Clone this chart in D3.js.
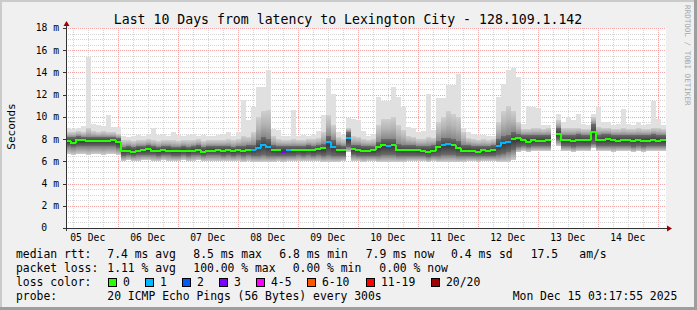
<!DOCTYPE html>
<html><head><meta charset="utf-8">
<script src="https://cdn.jsdelivr.net/npm/d3@7"></script>
<style>body{margin:0;background:#f0f0f0}svg{display:block}</style>
</head><body><svg id="c" width="697" height="310"></svg>
<script>
// ---------- data ----------
const titleText = "Last 10 Days from latency to Lexington City - 128.109.1.142";
const yTicks = [0, 2, 4, 6, 8, 10, 12, 14, 16, 18];
const yTickLabels = ["0", "2 m", "4 m", "6 m", "8 m", "10 m", "12 m", "14 m", "16 m", "18 m"];
const dayLabels = ["05 Dec", "06 Dec", "07 Dec", "08 Dec", "09 Dec", "10 Dec", "11 Dec", "12 Dec", "13 Dec", "14 Dec"];
// 2-hour steps starting Dec 5 03:17:55 (ms)
const median = [7.85,7.65,7.95,7.9,7.85,7.8,7.8,7.8,7.8,7.9,7.7,
 6.9,6.9,6.8,6.9,7.0,7.1,6.95,6.9,7.0,6.95,6.9,6.9,6.95,6.9,6.95,7.05,6.85,6.95,6.95,7.0,6.95,7.0,6.9,7.0,6.95,7.0,
 7.0,7.2,7.45,7.3,7.0,7.0,6.85,7.0,7.0,7.0,7.0,7.05,7.0,7.1,7.2,7.75,7.25,7.0,7.0,8.1,7.1,7.0,6.9,6.95,7.0,
 7.25,7.5,7.4,7.5,7.0,7.0,7.0,7.0,7.0,6.95,6.8,6.95,7.3,7.5,7.55,7.5,7.2,6.95,6.95,6.9,6.85,7.0,6.95,7.0,
 7.4,7.65,7.7,8.0,8.1,7.9,7.75,7.9,7.85,7.85,7.9,
 null,
 8.45,7.9,7.9,7.85,7.95,7.9,7.9,8.6,7.9,7.95,8.0,7.9,7.85,7.9,7.9,7.85,7.9,7.8,7.85,7.9,7.85,7.9];
const pingMin = [6.7,6.6,6.7,6.7,6.6,6.7,6.7,6.6,6.7,6.7,6.6,
 6.0,6.1,6.0,6.05,6.1,6.1,6.0,6.05,6.1,6.0,6.05,6.0,6.1,6.0,6.05,6.1,6.0,6.05,6.0,6.05,6.0,6.05,6.0,6.0,5.95,6.0,
 5.95,5.9,5.9,5.9,5.95,6.0,5.95,6.0,6.0,6.05,6.0,6.0,6.0,6.0,5.95,5.9,5.9,5.95,6.0,6.8,6.0,6.0,5.95,6.0,6.0,
 5.9,5.9,5.9,5.9,5.9,5.95,6.0,6.0,6.0,6.0,5.95,6.0,5.9,5.9,5.9,5.9,5.9,5.95,6.0,6.0,5.95,6.0,6.0,6.0,
 5.9,5.9,5.95,6.1,6.8,6.9,6.85,6.9,6.9,6.9,6.9,
 null,
 7.4,6.9,6.9,6.85,6.9,6.9,6.9,7.2,6.9,6.9,6.9,6.85,6.9,6.9,6.9,6.85,6.9,6.85,6.9,6.9,6.9,6.9];
const pingQ1 = [7.4,7.3,7.4,7.4,7.4,7.4,7.4,7.4,7.4,7.4,7.2,
 6.5,6.55,6.5,6.55,6.6,6.6,6.55,6.5,6.55,6.55,6.5,6.5,6.55,6.5,6.55,6.6,6.5,6.55,6.55,6.55,6.5,6.55,6.5,6.55,6.5,6.55,
 6.5,6.5,6.6,6.5,6.5,6.5,6.45,6.5,6.5,6.55,6.5,6.55,6.5,6.55,6.5,6.6,6.5,6.5,6.5,7.3,6.55,6.5,6.45,6.5,6.5,
 6.5,6.6,6.6,6.6,6.5,6.5,6.5,6.5,6.5,6.5,6.4,6.5,6.5,6.6,6.6,6.6,6.5,6.5,6.5,6.5,6.45,6.5,6.5,6.5,
 6.6,6.7,6.8,7.0,7.3,7.35,7.3,7.35,7.35,7.35,7.4,
 null,
 7.9,7.35,7.35,7.3,7.4,7.35,7.35,7.6,7.35,7.4,7.4,7.35,7.35,7.35,7.35,7.3,7.35,7.3,7.35,7.35,7.35,7.35];
const pingQ3 = [8.2,8.2,8.3,8.2,8.2,8.2,8.2,8.2,8.2,8.2,8.1,
 7.3,7.35,7.3,7.35,7.4,7.45,7.35,7.3,7.4,7.35,7.3,7.3,7.35,7.3,7.4,7.45,7.3,7.35,7.35,7.4,7.35,7.4,7.3,7.4,7.4,7.45,
 7.5,7.9,8.2,8.0,7.5,7.4,7.35,7.4,7.4,7.4,7.4,7.45,7.4,7.5,7.6,8.3,7.9,7.5,7.4,8.6,7.5,7.45,7.35,7.4,7.4,
 7.7,8.0,8.0,8.0,7.6,7.5,7.5,7.45,7.4,7.4,7.4,7.45,7.8,8.1,8.1,8.0,7.8,7.5,7.45,7.4,7.35,7.4,7.4,7.45,
 8.0,8.3,8.4,8.6,8.5,8.4,8.35,8.4,8.4,8.4,8.4,
 null,
 9.0,8.4,8.4,8.4,8.45,8.4,8.4,9.4,8.4,8.45,8.5,8.4,8.4,8.4,8.4,8.4,8.4,8.35,8.4,8.45,8.4,8.4];
const pingHi = [8.6,8.6,8.7,8.6,9.0,8.7,8.6,8.7,8.6,8.6,8.5,
 7.9,7.9,7.8,7.9,7.9,8.0,7.9,7.8,7.9,7.9,7.9,7.8,7.9,7.9,7.9,8.0,7.8,7.9,7.9,7.9,7.9,8.0,7.9,8.0,8.3,8.2,
 8.6,10.0,10.5,10.6,8.3,8.0,7.9,7.9,8.0,7.9,7.9,8.0,8.0,8.1,8.6,10.2,9.3,8.2,8.0,9.0,8.3,8.2,8.0,7.9,8.0,
 9.3,9.8,9.8,10.0,9.3,8.8,8.3,8.2,8.0,8.0,8.2,8.1,9.5,10.0,10.5,10.3,10.0,8.6,8.1,8.0,7.9,8.0,7.9,8.0,
 9.5,10.5,11.0,10.5,9.5,8.9,8.9,9.0,9.0,8.9,9.0,
 null,
 9.7,9.0,9.0,9.0,9.0,8.9,8.9,10.0,9.1,9.0,9.0,8.9,8.9,9.0,8.9,8.9,9.0,8.9,8.9,9.0,9.0,8.9];
const pingMax = [9.0,8.9,9.0,9.2,15.4,9.4,9.3,9.2,10.2,9.1,9.1,
 8.3,8.2,8.3,8.4,8.3,8.5,9.0,8.4,8.5,8.3,8.6,8.4,8.3,8.4,8.5,8.3,8.4,8.3,8.3,8.4,8.5,8.6,8.3,8.6,11.5,9.7,
 10.9,12.7,12.7,14.2,8.9,8.8,8.3,8.3,10.6,8.3,8.4,8.3,8.4,8.7,10.2,13.5,12.1,8.6,8.4,9.9,9.8,9.7,8.7,8.3,8.5,
 11.8,11.4,11.4,12.7,11.8,10.9,9.1,9.0,8.6,8.7,12.1,8.8,11.7,11.7,12.9,12.9,13.9,9.0,8.6,8.5,8.4,8.4,8.3,8.3,
 11.8,13.0,14.2,14.4,13.6,9.4,11.0,10.9,10.8,9.3,9.3,
 null,
 10.3,9.5,10.0,9.7,10.3,9.4,9.3,10.3,10.9,9.5,9.5,9.3,9.4,10.7,9.4,9.3,9.5,9.3,9.4,11.4,9.8,9.3];
const lossCount = [0,0,0,0,0,0,0,0,0,0,0,
 0,0,0,0,0,0,0,0,0,0,0,0,0,0,0,0,0,0,0,0,0,0,0,0,0,0,
 1,1,1,1,0,0,3,1,0,0,0,0,0,0,0,1,1,0,0,1,0,0,0,0,0,
 0,0,1,0,0,0,0,0,0,0,0,0,0,1,1,0,0,0,0,0,0,0,0,0,
 1,1,1,0,0,0,0,0,0,0,0,
 0,
 0,0,0,0,0,0,0,0,0,0,0,0,0,0,0,0,0,0,0,0,0,0];
const lossLabels = ["0", "1", "2", "3", "4-5", "6-10", "11-19", "20/20"];
const lossColors = ["#26ff00", "#00b8ff", "#0059ff", "#7e00ff", "#ff00ff", "#ff5500", "#ff0000", "#a10000"];
const statsRtt = ["7.4 ms avg", "8.5 ms max", "6.8 ms min", "7.9 ms now", "0.4 ms sd", "17.5", "am/s"];
const statsLoss = ["1.11 % avg", "100.00 % max", "0.00 % min", "0.00 % now"];
const probeText = "20 ICMP Echo Pings (56 Bytes) every 300s";
const dateText = "Mon Dec 15 03:17:55 2025";

// ---------- layout ----------
const W = 697, H = 310;
const tStart = new Date(Date.UTC(2025, 11, 5, 3, 17, 55));
const tEnd = new Date(Date.UTC(2025, 11, 15, 3, 17, 55));
const STEP = 2 * 3600 * 1000;
const L = 66, R = 666, T = 28, B = 228;
const x = d3.scaleUtc().domain([tStart, tEnd]).range([L, R]);
const y = d3.scaleLinear().domain([0, 18]).range([B, T]);
const mono = "DejaVu Sans Mono";

const svg = d3.select("#c");
const defs = svg.append("defs");
function grad(id, stops) {
  const g = defs.append("linearGradient").attr("id", id).attr("x1", 0).attr("y1", 0).attr("x2", 0).attr("y2", 1);
  stops.forEach(s => g.append("stop").attr("offset", s[0]).attr("stop-color", s[1]));
}
grad("gBelow", [[0, "#7a7a7a"], [0.5, "#a6a6a6"], [1, "#cdcdcd"]]);
grad("gAbove", [[0, "#cfcfcf"], [0.5, "#b4b4b4"], [1, "#888888"]]);
grad("gCore", [[0, "#6c6c6c"], [0.5, "#3e3e3e"], [1, "#6c6c6c"]]);

// background + frame
svg.append("rect").attr("width", W).attr("height", H).attr("fill", "#f0f0f0");
svg.append("path").attr("d", `M0,0H${W}V2H2V${H}H0Z`).attr("fill", "#cbcbcb");
svg.append("path").attr("d", `M${W},0V${H}H0V${H-3}H${W-3}V0Z`).attr("fill", "#9e9e9e");

// canvas
svg.append("rect").attr("x", L).attr("y", T).attr("width", R - L).attr("height", B - T).attr("fill", "#ffffff");

const px = v => Math.round(v) + 0.5;
const grid = svg.append("g").attr("shape-rendering", "crispEdges");
d3.range(0.5, 18.01, 0.5).filter(v => Math.abs(v % 2) > 1e-6).forEach(v => {
  grid.append("line").attr("x1", L).attr("x2", R).attr("y1", px(y(v))).attr("y2", px(y(v)))
    .attr("stroke", "#d4d4d4").attr("stroke-dasharray", "1,1");
});
d3.utcHour.every(6).range(tStart, tEnd).filter(t => t.getUTCHours() !== 0).forEach(t => {
  grid.append("line").attr("x1", px(x(t))).attr("x2", px(x(t))).attr("y1", T).attr("y2", B)
    .attr("stroke", "#d4d4d4").attr("stroke-dasharray", "1,1");
});
yTicks.filter(v => v > 0).forEach(v => {
  grid.append("line").attr("x1", L).attr("x2", R).attr("y1", px(y(v))).attr("y2", px(y(v)))
    .attr("stroke", "#f2a4a4").attr("stroke-dasharray", "1,1");
});
d3.utcDay.range(tStart, tEnd).forEach(t => {
  grid.append("line").attr("x1", px(x(t))).attr("x2", px(x(t))).attr("y1", T).attr("y2", B)
    .attr("stroke", "#f2a4a4").attr("stroke-dasharray", "1,1");
});

// smoke
const smoke = svg.append("g").attr("shape-rendering", "crispEdges");
median.forEach((m, i) => {
  if (m === null) return;
  const t0 = new Date(+tStart + i * STEP), t1 = new Date(+tStart + (i + 1) * STEP);
  const x0 = Math.round(x(t0)), x1 = Math.round(x(t1));
  const band = (a, b, fill) => {
    const ya = Math.round(y(a)), yb = Math.round(y(b));
    smoke.append("rect").attr("x", x0).attr("width", x1 - x0).attr("y", yb).attr("height", Math.max(0, ya - yb)).attr("fill", fill);
  };
  band(pingHi[i], pingMax[i], "#e0e0e0");
  band(pingQ3[i], pingHi[i], "url(#gAbove)");
  band(pingMin[i], pingQ1[i], "url(#gBelow)");
  band(pingQ1[i], pingQ3[i], "url(#gCore)");
});

// median line coloured by loss
const lossIdx = c => c === 0 ? 0 : c === 1 ? 1 : c === 2 ? 2 : c === 3 ? 3 : c <= 5 ? 4 : c <= 10 ? 5 : c <= 19 ? 6 : 7;
const med = svg.append("g").attr("shape-rendering", "crispEdges");
median.forEach((m, i) => {
  if (m === null) return;
  const t0 = new Date(+tStart + i * STEP), t1 = new Date(+tStart + (i + 1) * STEP);
  const x0 = Math.round(x(t0)), x1 = Math.round(x(t1));
  const yy = Math.round(y(m));
  const col = lossColors[lossIdx(lossCount[i])];
  let d = `M${x0},${yy}H${x1}`;
  if (i > 0 && median[i - 1] !== null && lossIdx(lossCount[i - 1]) === lossIdx(lossCount[i])) {
    const yp = Math.round(y(median[i - 1]));
    d = `M${x0},${yp}V${yy}H${x1}`;
  }
  med.append("path").attr("d", d).attr("fill", "none").attr("stroke", col).attr("stroke-width", 2);
});

// axes
const ax = svg.append("g").attr("shape-rendering", "crispEdges");
ax.append("line").attr("x1", L - 3).attr("x2", R + 2).attr("y1", B + 0.5).attr("y2", B + 0.5).attr("stroke", "#333");
ax.append("line").attr("x1", L + 0.5).attr("x2", L + 0.5).attr("y1", B + 3).attr("y2", T - 4).attr("stroke", "#333");
yTicks.forEach(v => {
  ax.append("line").attr("x1", L - 3).attr("x2", L).attr("y1", px(y(v))).attr("y2", px(y(v))).attr("stroke", "#333");
});
svg.append("path").attr("d", `M${L + 0.5},${T - 7}L${L - 2.5},${T - 2}L${L + 3.5},${T - 2}Z`).attr("fill", "#a00000");
svg.append("path").attr("d", `M${R + 6},${B + 0.5}L${R + 1},${B - 2.5}L${R + 1},${B + 3.5}Z`).attr("fill", "#a00000");

// axis labels
const txt = svg.append("g").attr("font-family", mono).attr("fill", "#000");
yTicks.forEach((v, k) => {
  txt.append("text").attr("x", v === 0 ? 47 : 59).attr("y", y(v) + 3.4).attr("text-anchor", "end")
    .attr("font-size", 9.7).text(yTickLabels[k]);
});
dayLabels.forEach((lab, k) => {
  const t = new Date(Date.UTC(2025, 11, 5 + k, 12, 0, 0));
  txt.append("text").attr("x", x(t)).attr("y", 241).attr("text-anchor", "middle").attr("font-size", 9.7).text(lab);
});
txt.append("text").attr("transform", "translate(14.5,126.5) rotate(-90)").attr("text-anchor", "middle")
  .attr("font-size", 11).text("Seconds");
txt.append("text").attr("x", 348).attr("y", 24).attr("text-anchor", "middle").attr("font-size", 13.2).text(titleText);
svg.append("text").attr("transform", "translate(685,5) rotate(90)").attr("font-family", mono)
  .attr("font-size", 7.6).attr("fill", "#a8a8a8").text("RRDTOOL / TOBI OETIKER");

// legend
const fs = 11.4;
const row = (yy, items) => items.forEach(([xx, s]) =>
  txt.append("text").attr("x", xx).attr("y", yy).attr("font-size", fs).attr("xml:space", "preserve").text(s));
row(258.3, [[16, "median rtt:"], [107.3, statsRtt[0]], [193.3, statsRtt[1]], [279.3, statsRtt[2]],
  [365.7, statsRtt[3]], [451, statsRtt[4]], [530.7, statsRtt[5]], [579.3, statsRtt[6]]]);
row(272.3, [[16, "packet loss:"], [107.3, statsLoss[0]], [193.3, statsLoss[1]], [292.7, statsLoss[2]], [379.3, statsLoss[3]]]);
row(286.3, [[16, "loss color:"]]);
const boxX = [108, 145, 182, 219, 256, 307, 366, 431];
lossLabels.forEach((lab, k) => {
  svg.append("rect").attr("x", boxX[k] + 0.5).attr("y", 278.5).attr("width", 8).attr("height", 8)
    .attr("fill", lossColors[k]).attr("stroke", "#000").attr("shape-rendering", "crispEdges");
  txt.append("text").attr("x", boxX[k] + 15).attr("y", 286.3).attr("font-size", fs).text(lab);
});
row(300.3, [[16, "probe:"], [107.3, probeText], [512.7, dateText]]);
</script></body></html>
